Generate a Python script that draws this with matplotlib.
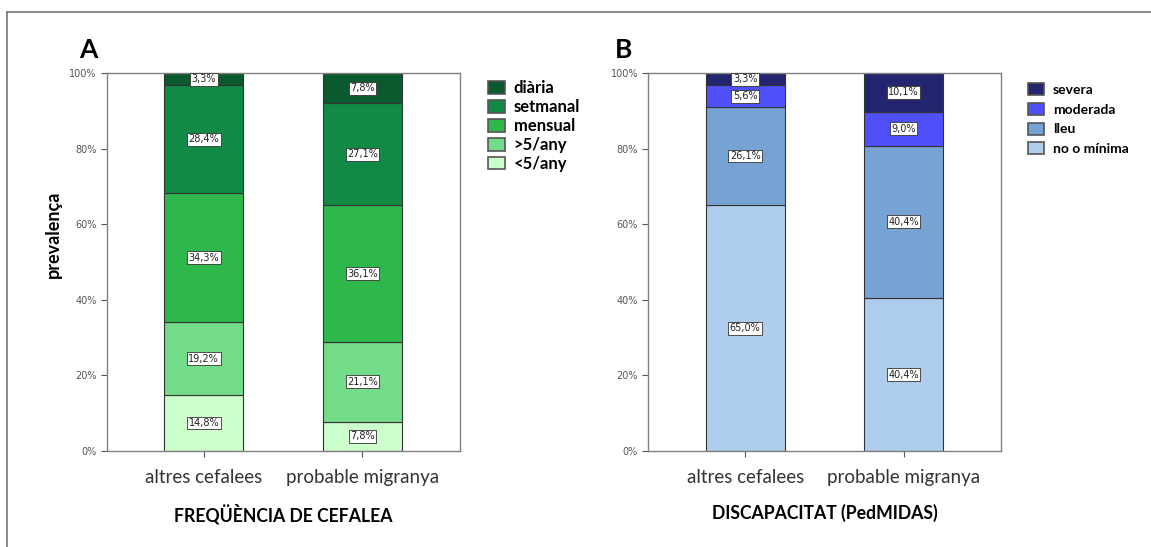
import matplotlib
matplotlib.use("Agg")
import matplotlib.pyplot as plt
from matplotlib.lines import Line2D
from matplotlib.patches import Patch
import numpy as np

# data (percent), stacked bottom -> top
groups = ["altres cefalees", "probable migranya"]

freq_labels = ["<5/any", ">5/any", "mensual", "setmanal", "diària"]
freq_values = [
    [14.8, 7.8],
    [19.2, 21.1],
    [34.3, 36.1],
    [28.4, 27.1],
    [3.3, 7.8],
]
freq_colors = ["#ccffcc", "#72dc88", "#2eb84b", "#118a46", "#0b5a2d"]

disc_labels = ["no o mínima", "lleu", "moderada", "severa"]
disc_values = [
    [65.0, 40.4],
    [26.1, 40.4],
    [5.6, 9.0],
    [3.3, 10.1],
]
disc_colors = ["#aecdec", "#76a3d4", "#5050fa", "#23266e"]

plt.rcParams['font.family'] = ['Lato', 'DejaVu Sans']


def stacked(ax, labels, values, colors, xlabel):
    x = np.arange(len(groups))
    bottom = np.zeros(len(groups))
    for lab, vals, col in zip(labels, values, colors):
        vals = np.array(vals)
        ax.bar(x, vals, width=0.5, bottom=bottom, color=col,
               edgecolor="#333333", linewidth=0.8, label=lab)
        for xi, b, v in zip(x, bottom, vals):
            ax.text(xi, b + v / 2, f"{v:.1f}%".replace(".", ","),
                    ha="center", va="center", fontsize=7,
                    family="DejaVu Sans", color="#222222",
                    bbox=dict(boxstyle="square,pad=0.15", fc="white",
                              ec="#333333", lw=0.6))
        bottom = bottom + vals
    ax.set_xlim(-0.61, 1.615)
    ax.set_ylim(0, 100)
    ax.set_yticks(np.arange(0, 101, 20))
    ax.set_yticklabels([f"{t}%" for t in range(0, 101, 20)],
                       fontsize=7, family="DejaVu Sans", color="#555555")
    ax.set_xticks(x)
    ax.set_xticklabels(groups, fontsize=13.5, color="#333333")
    ax.tick_params(axis="both", length=4, color="#555555", width=0.8)
    ax.tick_params(axis="x", pad=9)
    for s in ax.spines.values():
        s.set_color("#808080")
        s.set_linewidth(1.0)
    ax.set_xlabel(xlabel, fontsize=12.7, fontweight="bold", labelpad=13)
    handles = [Patch(facecolor=c, edgecolor="#555555", lw=1.2, label=l)
               for l, c in zip(labels[::-1], colors[::-1])]
    return handles


fig = plt.figure(figsize=(11.51, 5.47), dpi=100)
axA = fig.add_axes([0.093, 0.1755, 0.3067, 0.691])
axB = fig.add_axes([0.5634, 0.1755, 0.3063, 0.691])

hA = stacked(axA, freq_labels, freq_values, freq_colors, "FREQÜÈNCIA DE CEFALEA")
hB = stacked(axB, disc_labels, disc_values, disc_colors, "DISCAPACITAT (PedMIDAS)")

axA.set_ylabel("prevalença", fontsize=13, fontweight="bold")
axA.yaxis.set_label_coords(-0.128, 0.573)

axA.legend(handles=hA, loc="upper left", bbox_to_anchor=(1.06, 0.998),
           frameon=False, prop=dict(size=12, weight="bold"),
           handlelength=1.0, handleheight=0.8, handletextpad=0.55,
           labelspacing=0.17, borderaxespad=0)
axB.legend(handles=hB, loc="upper left", bbox_to_anchor=(1.06, 0.988),
           frameon=False, prop=dict(size=10, weight="bold"),
           handlelength=1.2, handleheight=0.95, handletextpad=0.6,
           labelspacing=0.5, borderaxespad=0)

fig.text(0.0686, 1 - 58 / 547, "A", fontsize=19, fontweight="bold", va="baseline")
fig.text(0.534, 1 - 58 / 547, "B", fontsize=19, fontweight="bold", va="baseline")

# outer frame (top and left)
fig.add_artist(Line2D([7 / 1151, 1], [1 - 12 / 547, 1 - 12 / 547],
                      transform=fig.transFigure, color="#777777", lw=1.2))
fig.add_artist(Line2D([7 / 1151, 7 / 1151], [0, 1 - 12 / 547],
                      transform=fig.transFigure, color="#777777", lw=1.2))

fig.savefig("out.png", dpi=100)
